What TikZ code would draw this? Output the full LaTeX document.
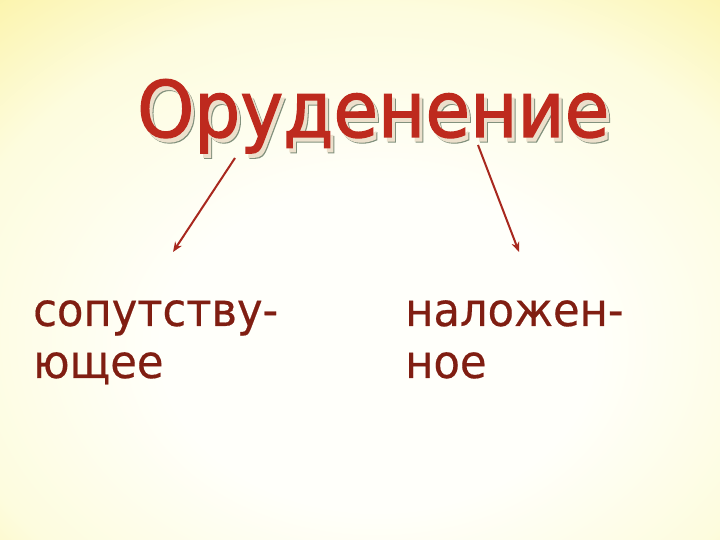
\documentclass[tikz,border=0pt]{standalone}
\usepackage{fontspec}
\setmainfont{DejaVu Sans}
\newfontfamily\titlefont[FakeStretch=0.93,FakeBold=1.6]{DejaVu Sans}
\newfontfamily\bodyfont[FakeStretch=0.94,FakeBold=0.4]{DejaVu Sans}
\usetikzlibrary{arrows.meta}
\definecolor{bgcenter}{RGB}{255,255,250}
\definecolor{bgmid}{RGB}{253,252,222}
\definecolor{bgouter}{RGB}{251,242,160}
\definecolor{bgedge}{RGB}{252,236,115}
\definecolor{bgcorner}{RGB}{255,238,100}
\definecolor{titlered}{RGB}{190,42,30}
\definecolor{shadowfill}{RGB}{236,224,204}
\definecolor{shadowline}{RGB}{130,145,125}
\definecolor{bodybrown}{RGB}{128,30,18}
\definecolor{arrowred}{RGB}{168,40,30}
\pgfdeclareradialshading{slidebg}{\pgfpoint{1.5bp}{-9bp}}{%
  color(0bp)=(bgcenter); color(15bp)=(bgcenter); color(30bp)=(bgmid);
  color(42bp)=(bgouter); color(55bp)=(bgedge); color(70bp)=(bgcorner); color(80bp)=(bgcorner)}
\tikzset{
  titletext/.style={inner sep=0pt, anchor=base west, font=\titlefont\fontsize{78}{90}\selectfont},
  bodytext/.style={inner sep=0pt, anchor=north west, align=left,
    text=bodybrown, font=\bodyfont\fontsize{46}{52}\selectfont},
  conn/.style={draw=arrowred, line width=2pt, -{Stealth[length=10pt,width=8pt]}}
}
\begin{document}
\begin{tikzpicture}[x=1pt,y=-1pt]
\useasboundingbox (0,0) rectangle (720,540);
\shade[shading=slidebg] (0,0) rectangle (720,540);
% title with embossed shadow
\node[titletext, text=shadowline] at (141,142) {Оруденение};
\node[titletext, text=shadowfill] at (140,141) {Оруденение};
\node[titletext, text=titlered] (title) at (137,137) {Оруденение};
% bottom texts
\node[bodytext] (left) at (33,300) {сопутству-\\ющее};
\node[bodytext] (right) at (405,300) {наложен-\\ное};
% connector endpoints
\coordinate (ls) at (235,158);
\coordinate (le) at (173,252);
\coordinate (rs) at (478,145);
\coordinate (re) at (519,252);
\draw[conn] (ls) -- (le);
\draw[conn] (rs) -- (re);
\end{tikzpicture}
\end{document}
